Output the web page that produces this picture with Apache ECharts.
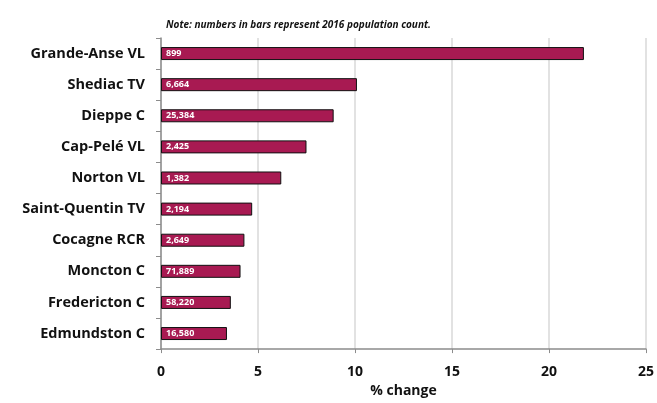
<!DOCTYPE html>
<html><head><meta charset="utf-8">
<script src="https://cdn.jsdelivr.net/npm/echarts@6/dist/echarts.min.js"></script>
<style>html,body{margin:0;padding:0;background:#fff}#c{width:657px;height:403px}</style>
</head><body><div id="c"></div>
<script>
const categories = ["Grande-Anse VL","Shediac TV","Dieppe C","Cap-Pelé VL","Norton VL","Saint-Quentin TV","Cocagne RCR","Moncton C","Fredericton C","Edmundston C"];
const pctChange = [21.8,10.1,8.9,7.5,6.2,4.7,4.3,4.1,3.6,3.4];
const population2016 = ["899","6,664","25,384","2,425","1,382","2,194","2,649","71,889","58,220","16,580"];
const xTicks = [0,5,10,15,20,25];

const font = "'Open Sans', Lato, sans-serif";
const chart = echarts.init(document.getElementById('c'));
chart.setOption({
  animation:false,
  title:{text:"Note: numbers in bars represent 2016 population count.",left:166,top:20,padding:0,
    textStyle:{fontFamily:font,fontSize:10,fontWeight:'bold',fontStyle:'italic',color:'#111'}},
  grid:{left:161,right:11,top:38,bottom:49},
  xAxis:{type:'value',min:xTicks[0],max:xTicks[xTicks.length-1],interval:5,
    name:'% change',nameLocation:'middle',nameGap:28,
    nameTextStyle:{fontFamily:font,fontSize:14,fontWeight:'bold',color:'#111'},
    axisLine:{show:true,lineStyle:{color:'#8c8c8c',width:1.5}},
    axisTick:{show:true,length:4,lineStyle:{color:'#8c8c8c'}},
    axisLabel:{fontFamily:font,fontSize:14,fontWeight:'bold',color:'#111',margin:16},
    splitLine:{show:true,lineStyle:{color:'#d9d9d9',width:1.5}}},
  yAxis:{type:'category',data:categories,inverse:true,
    axisLine:{show:true,lineStyle:{color:'#8c8c8c',width:1.5}},
    axisTick:{show:true,length:5,lineStyle:{color:'#8c8c8c'}},
    axisLabel:{fontFamily:font,fontSize:14.5,fontWeight:'bold',color:'#111',margin:16}},
  series:[{type:'bar',data:pctChange,barWidth:13,
    itemStyle:{color:'#a81a52',borderColor:'#111',borderWidth:1},
    label:{show:true,position:'insideLeft',fontFamily:font,fontSize:9,fontWeight:'bold',color:'#fff',
      formatter:p=>population2016[p.dataIndex]}}]
});
</script></body></html>
